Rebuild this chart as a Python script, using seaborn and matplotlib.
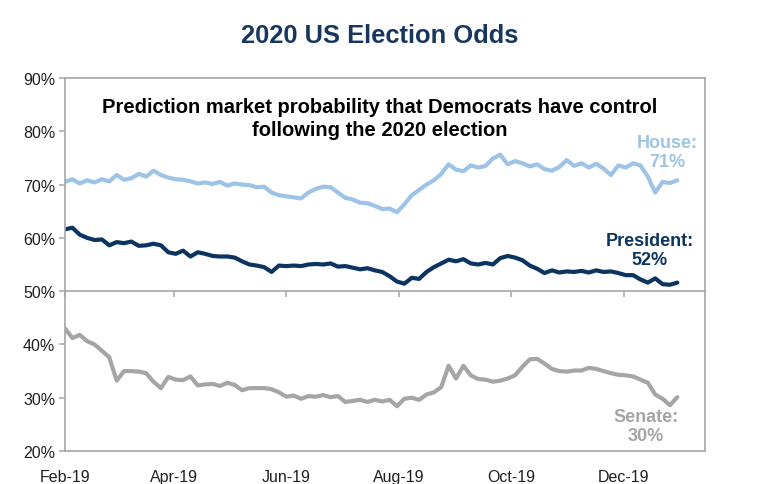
import numpy as np
import pandas as pd
import matplotlib
matplotlib.use("Agg")
import matplotlib.pyplot as plt
import matplotlib.dates as mdates
import seaborn as sns

start_date = "2019-02-01"
step_days = 4

house = [70.5, 71.0, 70.2, 70.8, 70.4, 71.0, 70.6, 71.8, 70.9, 71.2,
         72.0, 71.5, 72.6, 71.8, 71.3, 71.0, 70.9, 70.6, 70.2, 70.4,
         70.1, 70.5, 69.8, 70.2, 70.0, 69.9, 69.5, 69.6, 68.5, 68.0,
         67.8, 67.6, 67.4, 68.5, 69.2, 69.6, 69.5, 68.5, 67.5, 67.2,
         66.6, 66.5, 66.0, 65.4, 65.5, 64.8, 66.3, 68.0, 69.0, 70.0,
         70.8, 72.0, 73.8, 72.8, 72.5, 73.6, 73.2, 73.5, 74.9, 75.6,
         73.8, 74.4, 74.0, 73.4, 73.8, 72.9, 72.6, 73.3, 74.6, 73.5,
         74.0, 73.2, 73.9, 73.0, 71.8, 73.6, 73.2, 74.0, 73.6, 71.5,
         68.5, 70.5, 70.3, 70.8]

president = [61.6, 61.9, 60.6, 60.0, 59.6, 59.7, 58.6, 59.2, 59.0, 59.3,
             58.5, 58.6, 58.9, 58.6, 57.3, 57.0, 57.6, 56.5, 57.3, 57.0,
             56.6, 56.5, 56.5, 56.3, 55.6, 55.0, 54.8, 54.5, 53.6, 54.8,
             54.7, 54.8, 54.7, 55.0, 55.1, 55.0, 55.2, 54.6, 54.7, 54.4,
             54.1, 54.3, 53.9, 53.6, 52.8, 51.8, 51.4, 52.5, 52.3, 53.6,
             54.5, 55.2, 55.9, 55.6, 56.0, 55.2, 55.0, 55.3, 55.0, 56.2,
             56.6, 56.3, 55.8, 54.8, 54.2, 53.4, 53.9, 53.5, 53.7, 53.6,
             53.8, 53.5, 53.9, 53.6, 53.7, 53.4, 53.0, 53.0, 52.2, 51.6,
             52.4, 51.3, 51.2, 51.6]

senate = [43.0, 41.2, 41.8, 40.6, 40.0, 38.8, 37.6, 33.2, 35.0, 35.0,
          34.9, 34.6, 33.0, 31.8, 33.9, 33.4, 33.3, 34.0, 32.3, 32.5,
          32.6, 32.2, 32.8, 32.4, 31.4, 31.8, 31.8, 31.8, 31.6, 31.0,
          30.2, 30.4, 29.8, 30.3, 30.2, 30.5, 30.1, 30.3, 29.2, 29.4,
          29.6, 29.2, 29.6, 29.3, 29.6, 28.4, 29.8, 30.0, 29.6, 30.6,
          31.0, 32.0, 36.0, 33.6, 36.0, 34.2, 33.5, 33.4, 33.0, 33.2,
          33.6, 34.2, 35.8, 37.2, 37.3, 36.4, 35.4, 35.0, 34.9, 35.1,
          35.1, 35.6, 35.4, 35.0, 34.6, 34.3, 34.2, 34.0, 33.4, 32.8,
          30.6, 29.8, 28.6, 30.1]

series_names = ["House", "President", "Senate"]
end_labels = ["House:\n71%", "President:\n52%", "Senate:\n30%"]
x_tick_dates = ["2019-02-01", "2019-04-01", "2019-06-01", "2019-08-01",
                "2019-10-01", "2019-12-01"]
y_ticks = [20, 30, 40, 50, 60, 70, 80, 90]
title = "2020 US Election Odds"
subtitle = "Prediction market probability that Democrats have control\nfollowing the 2020 election"

# ---- styling ----
colors = {"House": "#9DC3E6", "President": "#0B3560", "Senate": "#A5A5A5"}
spine_col = "#A6A6A6"
text_col = "#1F1F1F"

dates = pd.date_range(start_date, periods=len(house), freq=f"{step_days}D")
df = pd.concat([
    pd.DataFrame({"date": dates, "value": vals, "series": name})
    for name, vals in zip(series_names, [house, president, senate])
])

sns.set_theme(style="white")
plt.rcParams["font.family"] = ["Liberation Sans", "DejaVu Sans"]

fig = plt.figure(figsize=(7.59, 4.85), dpi=100)
ax = fig.add_axes([65 / 759, 1 - 452 / 485, 640 / 759, 373 / 485])

sns.lineplot(data=df, x="date", y="value", hue="series", palette=colors,
             linewidth=3.0, legend=False, ax=ax, estimator=None)

ax.set_xlim(pd.Timestamp("2019-02-01"), pd.Timestamp("2020-01-14"))
ax.set_ylim(20, 90)
ax.set_yticks(y_ticks)
ax.set_yticklabels([f"{v}%" for v in y_ticks])
ax.set_xticks(pd.to_datetime(x_tick_dates))
ax.xaxis.set_major_formatter(mdates.DateFormatter("%b-%y"))
ax.set_xlabel("")
ax.set_ylabel("")

for s in ax.spines.values():
    s.set_visible(True)
    s.set_color(spine_col)
    s.set_linewidth(1.2)

ax.tick_params(axis="y", which="major", direction="out", length=4, width=1.1,
               color=spine_col, labelsize=11.5, labelcolor=text_col, pad=3, left=True)
ax.tick_params(axis="x", which="major", length=0, labelsize=11.5,
               labelcolor=text_col, pad=13)

# horizontal axis line at 50% with month ticks (like the Excel axis crossing)
sec = ax.secondary_xaxis((50 - 20) / (90 - 20))
sec.set_xticks(pd.to_datetime(x_tick_dates))
sec.tick_params(axis="x", direction="out", length=4, width=1.1, color=spine_col,
                labelbottom=False, labeltop=False)
for s in sec.spines.values():
    s.set_color(spine_col)
    s.set_linewidth(1.2)

fig.text(0.5, 1 - 36 / 485, title, ha="center", va="center",
         fontsize=18.4, fontweight="bold", color="#17375E")

ax.text(0.492, 0.893, subtitle, transform=ax.transAxes, ha="center", va="center",
        fontsize=14.5, fontweight="bold", color="black", linespacing=1.25)

label_pos = {"House": (0.941, 0.802), "President": (0.914, 0.540), "Senate": (0.908, 0.068)}
for name, lab in zip(series_names, end_labels):
    x, y = label_pos[name]
    ax.text(x, y, lab, transform=ax.transAxes, ha="center", va="center",
            fontsize=13, fontweight="bold", color=colors[name], linespacing=1.15)

fig.savefig("out.png", dpi=100)
